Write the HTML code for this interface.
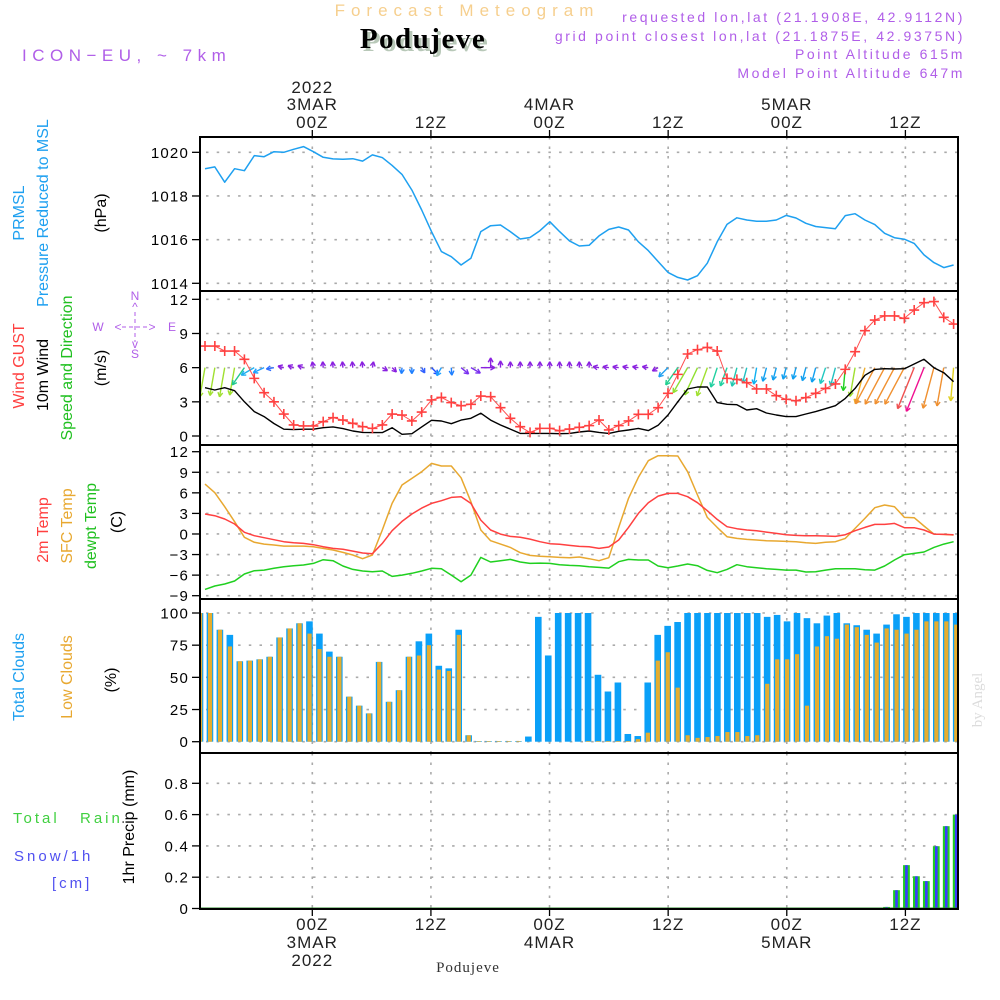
<!DOCTYPE html>
<html><head><meta charset="utf-8">
<style>
html,body{margin:0;padding:0;background:#fff;}
svg{display:block;font-family:"Liberation Sans",sans-serif;}
.tk{font-size:15px;letter-spacing:1.2px;fill:#000;}
.tl{font-size:17px;letter-spacing:1px;fill:#222;}
</style></head>
<body>
<svg id="chart" width="1000" height="1000" viewBox="0 0 1000 1000" xmlns="http://www.w3.org/2000/svg">
<rect x="0" y="0" width="1000" height="1000" fill="#fff"/>
<text x="467" y="16" text-anchor="middle" font-size="17" letter-spacing="6" fill="#f6cf8e">Forecast Meteogram</text>
<text x="426" y="51" text-anchor="middle" font-family="Liberation Serif,serif" font-weight="bold" font-size="29" letter-spacing="1.5" fill="#b8c8b8">Podujeve</text>
<text x="423" y="48" text-anchor="middle" font-family="Liberation Serif,serif" font-weight="bold" font-size="29" letter-spacing="1.5" fill="#000">Podujeve</text>
<text x="22" y="61" font-size="17" letter-spacing="5.5" fill="#b05ee8">ICON−EU, ~ 7km</text>
<g font-size="14" letter-spacing="2.6" fill="#b05ee8" text-anchor="end">
<text x="965" y="22">requested lon,lat (21.1908E, 42.9112N)</text>
<text x="965" y="41">grid point closest lon,lat (21.1875E, 42.9375N)</text>
<text x="965" y="59">Point Altitude 615m</text>
<text x="965" y="78">Model Point Altitude 647m</text>
</g>
<g id="labels"></g>
<g id="grid"></g>
<g id="marks"></g>
<g id="frame"></g>
<g id="axes"></g>
<text transform="translate(982,700) rotate(-90)" text-anchor="middle" font-family="Liberation Serif,serif" font-size="15" fill="#dcdcdc">by Angel</text>
<text x="468" y="972" text-anchor="middle" font-family="Liberation Serif,serif" font-size="15" letter-spacing="1" fill="#333">Podujeve</text>
</svg>
<script>
// ---- data (index 0 = 12Z 2 MAR, hourly) ----
const pressure=[1019.25,1019.33,1018.63,1019.25,1019.16,1019.85,1019.8,1020.03,1020.0,1020.14,1020.26,1020.03,1019.77,1019.7,1019.68,1019.71,1019.6,1019.88,1019.76,1019.4,1018.99,1018.27,1017.36,1016.37,1015.45,1015.22,1014.84,1015.15,1016.37,1016.64,1016.67,1016.37,1016.03,1016.1,1016.41,1016.82,1016.37,1015.94,1015.71,1015.74,1016.17,1016.47,1016.58,1016.44,1015.9,1015.5,1015.0,1014.5,1014.27,1014.15,1014.35,1014.92,1015.9,1016.7,1017.0,1016.9,1016.84,1016.84,1016.9,1017.11,1016.99,1016.75,1016.6,1016.55,1016.5,1017.1,1017.19,1016.9,1016.69,1016.29,1016.09,1016.02,1015.83,1015.3,1014.95,1014.72,1014.84];
const wind10=[4.24,4.04,4.24,3.98,3.0,2.14,1.7,1.1,0.6,0.56,0.6,0.6,0.73,0.8,0.65,0.44,0.32,0.3,0.3,0.73,0.15,0.2,0.8,1.38,1.32,1.08,1.4,1.55,2.0,1.4,0.97,0.61,0.23,0.23,0.23,0.23,0.2,0.23,0.35,0.44,0.32,0.23,0.41,0.53,0.67,0.47,0.94,1.84,3.0,4.13,4.3,4.3,2.93,2.78,2.75,2.28,2.4,2.02,1.84,1.7,1.7,1.93,2.14,2.4,2.66,3.3,4.18,5.33,5.85,5.91,5.88,5.91,6.32,6.73,6.0,5.56,4.77];
const gust=[7.9,7.9,7.46,7.46,6.73,5.06,3.8,3.0,1.93,0.97,0.88,0.88,1.26,1.61,1.4,1.11,0.82,0.67,0.97,1.93,1.84,1.32,2.1,3.16,3.39,2.93,2.66,2.78,3.51,3.45,2.49,1.55,0.82,0.32,0.67,0.67,0.47,0.61,0.76,0.91,1.4,0.53,0.91,1.32,1.9,1.9,2.49,3.75,5.41,7.2,7.58,7.78,7.46,5.06,4.97,4.68,4.13,4.13,3.54,3.22,3.1,3.37,3.75,4.18,4.57,5.85,7.4,9.25,10.18,10.54,10.54,10.33,11.06,11.7,11.8,10.42,9.83];
const windDir=[100,100,100,100,125,150,155,170,195,200,200,260,265,265,265,265,265,280,30,45,95,90,60,45,120,85,40,30,0,270,270,270,270,270,270,270,270,270,270,270,190,190,190,190,190,190,150,135,125,120,115,110,108,110,105,105,100,105,105,105,105,105,105,108,105,95,100,105,118,118,118,118,112,112,105,100,95];
const windColor=["#a0e030","#a0e030","#a0e030","#a0e030","#20c890","#20b0f0","#20a0ff","#3070ff","#8a20e0","#8a20e0","#8a20e0","#8a20e0","#8a20e0","#8a20e0","#8a20e0","#8a20e0","#8a20e0","#8a20e0","#8a20e0","#8a20e0","#2080ff","#2080ff","#3060ff","#2050ff","#20a0ff","#2080ff","#7a30f0","#7a30f0","#8a20e0","#8a20e0","#8a20e0","#8a20e0","#8a20e0","#8a20e0","#8a20e0","#8a20e0","#8a20e0","#8a20e0","#8a20e0","#8a20e0","#8a20e0","#8a20e0","#8a20e0","#8a20e0","#8a20e0","#8a20e0","#8a20e0","#20a0f0","#20d090","#90e030","#90e030","#a0e030","#20d0a0","#20d0a0","#20c8b0","#20c0c0","#10b0f0","#10a0f0","#10a0f0","#10a0f0","#10a0f0","#10a0f0","#10a0f0","#20c8c0","#20c0c0","#20d020","#a0e030","#f0b030","#f09030","#f09030","#f09030","#f09030","#f05050","#f01090","#f09030","#f09030","#e0d020"];
const temp2m=[2.91,2.67,2.18,1.45,0.24,-0.25,-0.54,-0.83,-1.13,-1.27,-1.37,-1.56,-1.86,-2.1,-2.24,-2.49,-2.78,-2.88,-1.37,0.48,1.84,2.91,3.78,4.46,4.85,5.34,5.44,4.46,2.03,0.58,-0.01,-0.35,-0.49,-0.74,-1.13,-1.42,-1.51,-1.66,-1.81,-1.86,-2.1,-1.9,-0.88,0.96,3.0,4.56,5.53,5.92,5.92,5.44,4.56,3.4,2.13,1.06,0.77,0.58,0.48,0.28,0.09,-0.1,-0.2,-0.25,-0.25,-0.3,-0.35,-0.1,0.48,0.96,1.4,1.4,1.55,0.92,0.92,0.58,-0.01,-0.06,-0.1];
const sfcTemp=[7.28,6.02,3.98,1.79,-0.49,-1.22,-1.47,-1.61,-1.76,-1.76,-1.76,-1.86,-2.1,-2.34,-2.68,-3.07,-3.6,-3.07,0.58,4.46,7.14,8.11,9.08,10.3,9.91,9.91,8.2,4.71,0.58,-0.98,-1.47,-1.95,-2.73,-3.12,-3.26,-3.31,-3.41,-3.46,-3.36,-3.6,-3.9,-3.46,0.96,5.19,8.26,10.69,11.42,11.42,11.37,9.08,5.68,2.42,0.96,-0.4,-0.64,-0.79,-0.88,-0.98,-1.03,-1.08,-1.13,-1.27,-1.37,-1.22,-1.13,-0.64,0.82,2.28,3.83,4.22,3.98,2.42,2.37,1.16,-0.01,-0.06,-0.15];
const dewpt=[-8.08,-7.59,-7.3,-6.86,-5.84,-5.36,-5.26,-5.01,-4.77,-4.63,-4.53,-4.29,-3.75,-3.9,-4.67,-5.16,-5.4,-5.5,-5.4,-6.18,-5.99,-5.74,-5.4,-5.01,-5.06,-5.99,-6.96,-5.99,-3.41,-4.09,-3.9,-3.7,-4.09,-4.29,-4.24,-4.29,-4.48,-4.58,-4.63,-4.77,-4.87,-4.97,-4.04,-3.7,-3.8,-3.8,-4.67,-4.92,-4.67,-4.38,-4.63,-5.31,-5.65,-5.16,-4.48,-4.77,-4.92,-5.06,-5.16,-5.26,-5.26,-5.55,-5.5,-5.26,-5.06,-5.06,-5.06,-5.21,-5.26,-4.67,-3.8,-3.02,-2.83,-2.63,-1.95,-1.47,-1.13];
const totalClouds=[100,100,87,83,62.5,63,64,66,81,88,92,93.5,84,70,66,35,28,22,62,31,40,66,78,84,59,57,87,5,0.5,0.5,0.5,0.5,0.5,4,97,67,100,100,100,100,52,39,46,6,4.4,46,83,90,93,100,100,100,100,100,100,100,100,97,98.5,93.5,100,96,92,98,100,92,90.5,87,84,91,99,97,100,100,100,100,100];
const lowClouds=[100,100,87,74,62.5,63,64,66,81,88,92,84,72,66,66,35,28,22,62,31,40,66,67,75,56,55,83,5,0.5,0.5,0.5,0.5,0.5,0,0,0,0,0,0,0.5,0.5,0.5,0.5,0.5,2,7,63,69.5,42,5,3,3.6,4.4,7.5,7.5,4.4,5,45,64,64,68,28,74,82,80,91,89,83,77,88,87,84,87,93.5,93.5,93.5,91];
const precipIndex=[69,70,71,72,73,74,75,76];
const precipMM=[0.01,0.117,0.277,0.206,0.175,0.398,0.526,0.6];
const pTicks=[1014,1016,1018,1020];
const wTicks=[0,3,6,9,12];
const tTicks=[-9,-6,-3,0,3,6,9,12];
const cTicks=[0,25,50,75,100];
const rTicks=[0,0.2,0.4,0.6,0.8];
const timeHours=[0,12,24,36,48,60];
const timeHourLabels=["00Z","12Z","00Z","12Z","00Z","12Z"];
const timeDayLabels=["3MAR","","4MAR","","5MAR",""];

// ---- scales ----
const NS="http://www.w3.org/2000/svg";
const XL=200,XR=958;
const xLine=i=>205+9.85*i;
const xBar=i=>200+9.95*i;
const xHour=h=>312.3+h*9.885;
const yP=v=>283.3-(v-1014)*21.83;
const yW=v=>436-v*11.39;
const yT=v=>451.7+(12-v)*6.857;
const yC=v=>741.7-v*1.287;
const yR=v=>908.5-v*156.5;
const panels=[[137,291],[291,445],[445,599],[599,753],[753,909]];
function mk(tag,attrs,parent){const e=document.createElementNS(NS,tag);for(const k in attrs)e.setAttribute(k,attrs[k]);parent.appendChild(e);return e;}
const grid=document.getElementById('grid'),marks=document.getElementById('marks'),frame=document.getElementById('frame'),axes=document.getElementById('axes'),labels=document.getElementById('labels');

const defs=mk('defs',{},document.getElementById('chart'));
const cp=mk('clipPath',{id:'plotclip'},defs);
mk('rect',{x:XL,y:137,width:XR-XL,height:772},cp);
marks.setAttribute('clip-path','url(#plotclip)');

function hgrid(vals,sc,nm){vals.forEach(v=>{const y=sc(v);const l=mk('line',{x1:XL+6,x2:XR,y1:y,y2:y,stroke:'#aaa','stroke-width':1.6,'stroke-dasharray':'2.5,8.2'},grid);

});}
hgrid(pTicks,yP,'pressure');hgrid(wTicks,yW,'wind');hgrid(tTicks,yT,'temp');hgrid(cTicks,yC,'cloud');hgrid(rTicks.slice(1),yR,'precip');
timeHours.forEach(h=>{const x=xHour(h);panels.forEach(p=>{const l=mk('line',{x1:x,x2:x,y1:p[0],y2:p[1],stroke:'#aaa','stroke-width':1.6,'stroke-dasharray':'2.5,7'},grid);

});});

totalClouds.forEach((v,i)=>{const x=xBar(i);
const b=mk('rect',{x:x-3.3,y:yC(v),width:6.6,height:yC(0)-yC(v),fill:'#0aa0f8'},marks);


const lv=lowClouds[i];
const o=mk('rect',{x:x-2,y:yC(lv),width:4.2,height:yC(0)-yC(lv),fill:'#e6ad2e'},marks);

});
precipIndex.forEach((idx,k)=>{const x=xBar(idx),v=precipMM[k];
const g=mk('rect',{x:x-3.4,y:yR(v),width:6.8,height:yR(0)-yR(v),fill:'#22cc22'},marks);


const s=mk('rect',{x:x-1.3,y:yR(v),width:2.6,height:yR(0)-yR(v),fill:'#3b3bff'},marks);

});
mk('line',{x1:XL,x2:XR,y1:yR(0)-0.5,y2:yR(0)-0.5,stroke:'#2a8a2a','stroke-width':1},marks);

function line(arr,sc,color,nm,w){const pts=arr.map((v,i)=>xLine(i).toFixed(1)+','+sc(v).toFixed(1)).join(' ');
const p=mk('polyline',{points:pts,fill:'none',stroke:color,'stroke-width':w||1.5,'stroke-linejoin':'round'},marks);

return p;}
line(pressure,yP,'#1ea0f0','pressure-line');
wind10.forEach((v,i)=>{const x0=xLine(i),y0=yW(6);const len=Math.max(6,7*v);const a=windDir[i]*Math.PI/180;
const x1=x0+len*Math.cos(a),y1=y0+len*Math.sin(a);const c=windColor[i];
const g=mk('g',{stroke:c,'stroke-width':1.4,fill:'none'},marks);


mk('line',{x1:x0,y1:y0,x2:x1,y2:y1},g);
[0.5,-0.5].forEach(d=>{const b=a+Math.PI+d;mk('line',{x1:x1,y1:y1,x2:x1+5*Math.cos(b),y2:y1+5*Math.sin(b)},g);});});
line(wind10,yW,'#000','wind10m-line',1.4);
line(gust,yW,'#ff5050','gust-line',1);
gust.forEach((v,i)=>{const x=xLine(i),y=yW(v);
const g=mk('path',{d:`M${x-5},${y}H${x+5}M${x},${y-5}V${y+5}`,stroke:'#ff4040','stroke-width':1.6},marks);

});
line(dewpt,yT,'#20d020','dewpoint-line');
line(sfcTemp,yT,'#e8a830','sfc-temp-line');
line(temp2m,yT,'#ff4040','temp2m-line');

panels.forEach((p,k)=>{const r=mk('rect',{x:XL,y:p[0],width:XR-XL,height:p[1]-p[0],fill:'none',stroke:'#000','stroke-width':2},frame);

});

function yaxis(vals,sc,fmt,nm){vals.forEach(v=>{const y=sc(v);mk('line',{x1:192,x2:XL,y1:y,y2:y,stroke:'#000','stroke-width':1.3},axes);
const t=mk('text',{x:189,y:y+5.5,'text-anchor':'end',class:'tk'},axes);t.textContent=fmt(v);

});}
yaxis(pTicks,yP,v=>String(v),'pressure');
yaxis(wTicks,yW,v=>String(v),'wind');
yaxis(tTicks,yT,v=>v<0?'−'+(-v):String(v),'temp');
yaxis(cTicks,yC,v=>String(v),'cloud');
yaxis(rTicks,yR,v=>v===0?'0':v.toFixed(1),'precip');

timeHours.forEach((h,k)=>{const x=xHour(h);
mk('line',{x1:x,x2:x,y1:130,y2:137,stroke:'#000','stroke-width':1.3},axes);
mk('line',{x1:x,x2:x,y1:909,y2:916,stroke:'#000','stroke-width':1.3},axes);
const t1=mk('text',{x:x,y:128,'text-anchor':'middle',class:'tl'},axes);t1.textContent=timeHourLabels[k];


const b1=mk('text',{x:x,y:930,'text-anchor':'middle',class:'tl'},axes);b1.textContent=timeHourLabels[k];


if(timeDayLabels[k]){const t2=mk('text',{x:x,y:110,'text-anchor':'middle',class:'tl'},axes);t2.textContent=timeDayLabels[k];


const b2=mk('text',{x:x,y:948,'text-anchor':'middle',class:'tl'},axes);b2.textContent=timeDayLabels[k];

}
if(h===0){const t3=mk('text',{x:x,y:93,'text-anchor':'middle',class:'tl'},axes);t3.textContent='2022';


const b3=mk('text',{x:x,y:966,'text-anchor':'middle',class:'tl'},axes);b3.textContent='2022';

}});

function vt(txt,x,y,color,nm,size){const t=mk('text',{transform:`translate(${x},${y}) rotate(-90)`,'text-anchor':'middle','font-size':size||16,fill:color},labels);t.textContent=txt;

}
vt('PRMSL',24,213,'#1ea0f0','prmsl-title');
vt('Pressure Reduced to MSL',48,213,'#1ea0f0','pressure-title');
vt('(hPa)',106,213,'#000','pressure-unit');
vt('Wind GUST',24,366,'#ff4040','gust-title');
vt('10m Wind',48,375,'#000','wind10m-title');
vt('Speed and Direction',72,368,'#20c020','wind-direction-title');
vt('(m/s)',106,368,'#000','wind-unit');
vt('2m Temp',48,530,'#ff4040','temp2m-title');
vt('SFC Temp',72,526,'#e8a830','sfc-temp-title');
vt('dewpt Temp',96,526,'#20c020','dewpoint-title');
vt('(C)',122,522,'#000','temp-unit');
vt('Total Clouds',24,677,'#1ea0f0','total-clouds-title');
vt('Low Clouds',72,677,'#e8a830','low-clouds-title');
vt('(%)',116,680,'#000','cloud-unit');
vt('1hr Precip (mm)',134,827,'#000','precip-title');
function ht(txt,x,y,color,nm){const t=mk('text',{x:x,y:y,'font-size':15,'letter-spacing':3,fill:color},labels);t.textContent=txt;

}
ht('Total',13,823,'#40d040','rain-legend-total');
ht('Rain',80,823,'#40d040','rain-legend');
ht('Snow/1h',14,861,'#5050f0','snow-legend');
ht('[cm]',52,888,'#5050f0','snow-unit-legend');
const cg=mk('g',{fill:'#b05ee8','font-size':12,'text-anchor':'middle'},labels);


[['N',135,300],['S',135,358],['W',98,331],['E',172,331],['<',118,331],['>',152,331],['^',135,311],['v',135,348]].forEach(a=>{const t=mk('text',{x:a[1],y:a[2]},cg);t.textContent=a[0];});
mk('line',{x1:122,x2:149,y1:327,y2:327,stroke:'#b05ee8','stroke-width':1,'stroke-dasharray':'4,3'},cg);
mk('line',{x1:135,x2:135,y1:312,y2:342,stroke:'#b05ee8','stroke-width':1,'stroke-dasharray':'4,3'},cg);
</script>
</body></html>
